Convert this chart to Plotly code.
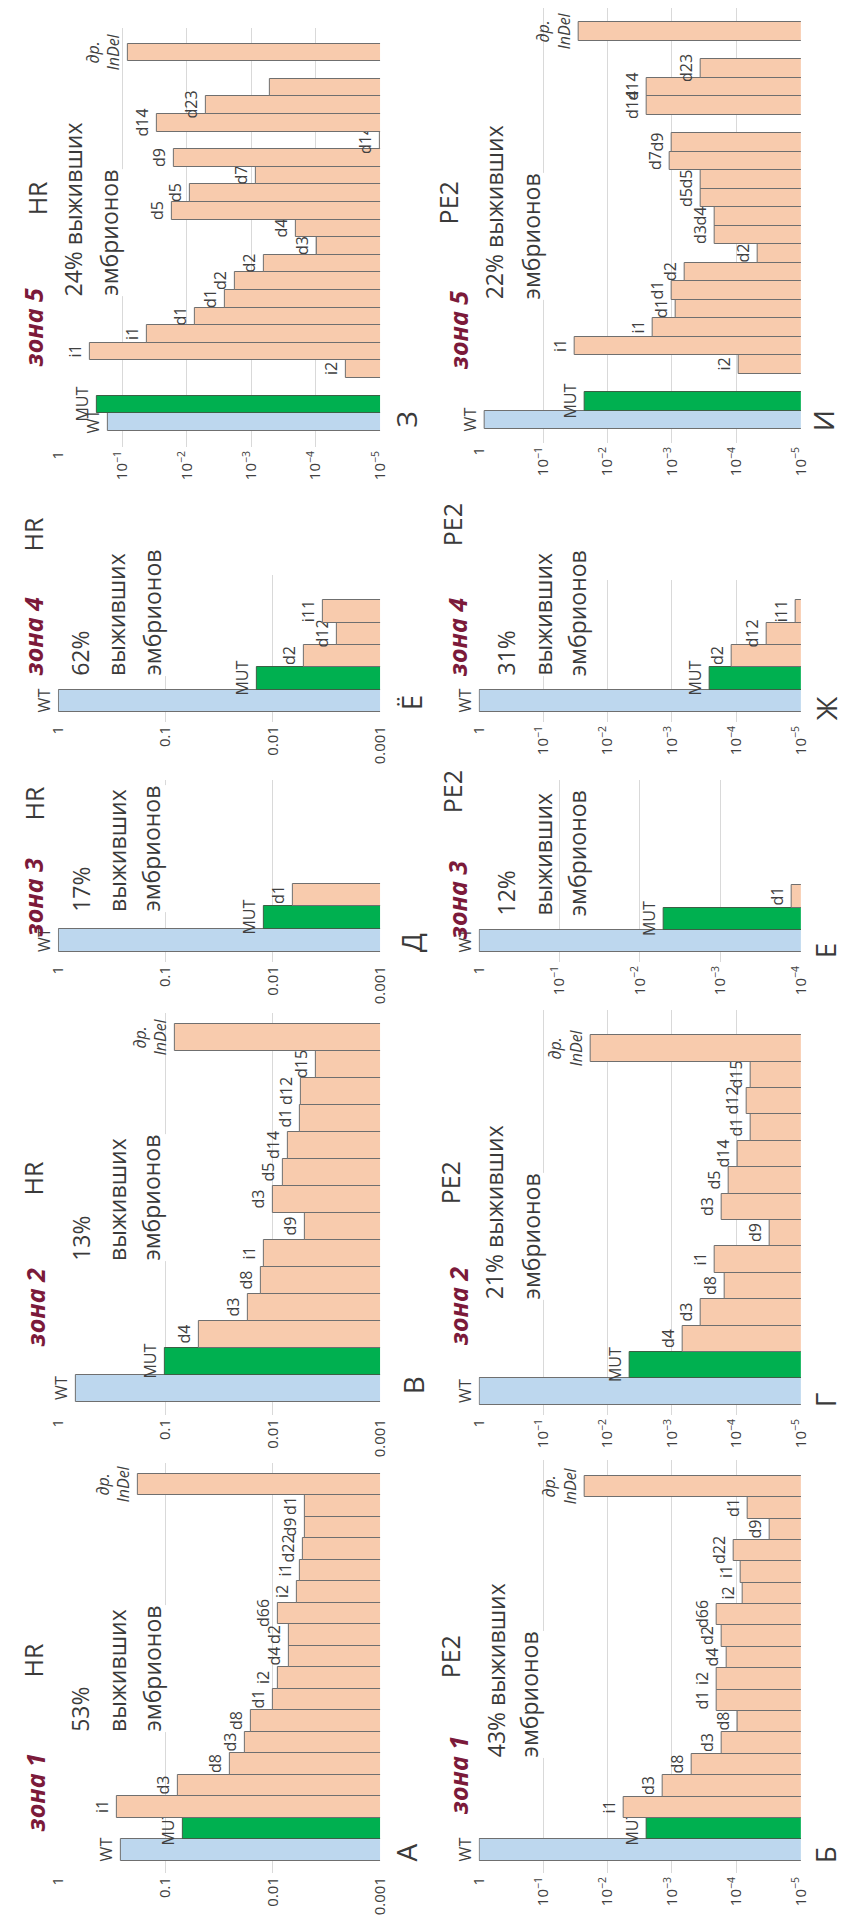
import plotly.graph_objects as go

W, H = 845, 1924
IND = "<i>др.</i><br><i>InDel</i>"

# ---------------- DATA (bottom -> top within each panel; "" / None = empty slot) ----------------
# zone 1, HR (А)
a_labels = ["WT", "MUT", "i1", "d3", "d8", "d3", "d8", "d1", "i2", "d4", "d2", "d66", "i2", "i1", "d22", "d9", "d1", IND]
a_values = [0.26, 0.068, 0.28, 0.076, 0.025, 0.018, 0.016, 0.010, 0.0089, 0.0071, 0.0071, 0.0089, 0.0060, 0.0056, 0.0052, 0.0050, 0.0050, 0.18]
# zone 1, PE2 (Б)
b_labels = ["WT", "MUT", "i1", "d3", "d8", "d3", "d8", "d1", "i2", "d4", "d2", "d66", "i2", "i1", "d22", "d9", "d1", IND]
b_values = [0.98, 2.5e-3, 5.6e-3, 1.4e-3, 5.0e-4, 1.7e-4, 9.5e-5, 2.0e-4, 2.0e-4, 1.4e-4, 1.7e-4, 2.0e-4, 7.9e-5, 8.5e-5, 1.1e-4, 3.0e-5, 6.6e-5, 0.023]
# zone 2, HR (В)
v_labels = ["WT", "MUT", "d4", "d3", "d8", "i1", "d9", "d3", "d5", "d14", "d1", "d12", "d15", IND]
v_values = [0.68, 0.10, 0.049, 0.017, 0.013, 0.012, 5.0e-3, 0.010, 8.1e-3, 7.2e-3, 5.6e-3, 5.5e-3, 4.0e-3, 0.081]
# zone 2, PE2 (Г)
g_labels = ["WT", "MUT", "d4", "d3", "d8", "i1", "d9", "d3", "d5", "d14", "d1", "d12", "d15", IND]
g_values = [0.98, 4.6e-3, 6.9e-4, 3.6e-4, 1.5e-4, 2.2e-4, 3.1e-5, 1.7e-4, 1.3e-4, 9.5e-5, 6.0e-5, 6.9e-5, 6.0e-5, 0.018]
# zone 3, HR (Д)
d_labels = ["WT", "MUT", "d1"]
d_values = [0.98, 0.012, 6.5e-3]
# zone 3, PE2 (Е)
e_labels = ["WT", "MUT", "d1"]
e_values = [0.98, 5.0e-3, 1.3e-4]
# zone 4, HR (Ё)
yo_labels = ["WT", "MUT", "d2", "d12", "i11"]
yo_values = [0.98, 0.014, 5.1e-3, 2.5e-3, 3.4e-3]
# zone 4, PE2 (Ж)
zh_labels = ["WT", "MUT", "d2", "d12", "i11"]
zh_values = [0.95, 2.6e-4, 1.2e-4, 3.4e-5, 1.2e-5]
# zone 5, HR (З)
z_labels = ["WT", "MUT", "", "i2", "i1", "i1", "d1", "d1", "d2", "d2", "d3", "d4", "d5", "d5", "d7", "d9", "d14", "d14", "d23", "", "", IND]
z_values = [0.17, 0.25, None, 3.4e-5, 0.32, 0.042, 7.4e-3, 2.6e-3, 1.8e-3, 6.3e-4, 9.5e-5, 2.0e-4, 0.017, 8.9e-3, 8.5e-4, 0.016, 1.0e-5, 0.029, 5.0e-3, 5.2e-4, None, 0.083]
# zone 5, PE2 (И)
i_labels = ["WT", "MUT", "", "i2", "i1", "i1", "d1", "d1", "d2", "d2", "d3", "d4", "d5", "d5", "d7", "d9", "", "d14", "d14", "d23", "", IND]
i_values = [0.81, 0.023, None, 9.1e-5, 0.032, 2.0e-3, 8.9e-4, 1.0e-3, 6.3e-4, 4.6e-5, 2.2e-4, 2.2e-4, 3.6e-4, 3.6e-4, 1.1e-3, 1.0e-3, None, 2.5e-3, 2.5e-3, 3.6e-4, None, 0.028]

# survival texts
surv_a = ["53%", "выживших", "эмбрионов"]
surv_b = ["43% выживших", "эмбрионов"]
surv_v = ["13%", "выживших", "эмбрионов"]
surv_g = ["21% выживших", "эмбрионов"]
surv_d = ["17%", "выживших", "эмбрионов"]
surv_e = ["12%", "выживших", "эмбрионов"]
surv_yo = ["62%", "выживших", "эмбрионов"]
surv_zh = ["31%", "выживших", "эмбрионов"]
surv_z = ["24% выживших", "эмбрионов"]
surv_i = ["22% выживших", "эмбрионов"]

# ---------------- LAYOUT / STYLE ----------------
COL_X = {"L": (48, 378), "R": (479, 809)}
C_WT, C_MUT, C_OTH = "#BDD7EE", "#00B050", "#F8CBAD"
ZONE_COLOR = "#7B1A3A"
TXT = "#3a3a3a"
FONT = "Open Sans"

panels = [
    dict(lab=a_labels, val=a_values, col="L", top=1463, bot=1873, c0=1850, c1=1484.5, mn=-3, pw=False,
         zone="зона 1", strain="HR", zpos=(25, 1792), spos=(23, 1660), surv=surv_a, sx=[70, 108, 144], sb=1733,
         letter="А", lpos=(405, 1852)),
    dict(lab=b_labels, val=b_values, col="R", top=1460, bot=1873, c0=1850, c1=1486.5, mn=-5, pw=True,
         zone="зона 1", strain="PE2", zpos=(458, 1775), spos=(450, 1657), surv=surv_b, sx=[497, 531], sb=1758,
         letter="Б", lpos=(834, 1855)),
    dict(lab=v_labels, val=v_values, col="L", top=1013, bot=1415, c0=1388.5, c1=1037.5, mn=-3, pw=False,
         zone="зона 2", strain="HR", zpos=(25, 1307), spos=(23, 1178), surv=surv_v, sx=[71, 108, 143], sb=1262,
         letter="В", lpos=(412, 1385)),
    dict(lab=g_labels, val=g_values, col="R", top=1010, bot=1415, c0=1391.5, c1=1048.5, mn=-5, pw=True,
         zone="зона 2", strain="PE2", zpos=(458, 1306), spos=(450, 1183), surv=surv_g, sx=[495, 533], sb=1300,
         letter="Г", lpos=(834, 1400)),
    dict(lab=d_labels, val=d_values, col="L", top=780, bot=962, c0=940.5, c1=895, mn=-3, pw=False,
         zone="зона 3", strain="HR", zpos=(23, 897), spos=(24, 803), surv=surv_d, sx=[71, 108, 143], sb=913,
         letter="Д", lpos=(410, 943)),
    dict(lab=e_labels, val=e_values, col="R", top=780, bot=962, c0=941, c1=896.5, mn=-4, pw=True,
         zone="зона 3", strain="PE2", zpos=(457, 900), spos=(452, 792), surv=surv_e, sx=[507, 545, 580], sb=917,
         letter="Е", lpos=(834, 950)),
    dict(lab=yo_labels, val=yo_values, col="L", top=575, bot=722, c0=701, c1=611.5, mn=-3, pw=False,
         zone="зона 4", strain="HR", zpos=(23, 636), spos=(23, 534), surv=surv_yo, sx=[71, 108, 144], sb=677,
         letter="Ё", lpos=(410, 702)),
    dict(lab=zh_labels, val=zh_values, col="R", top=580, bot=722, c0=701, c1=611.5, mn=-5, pw=True,
         zone="зона 4", strain="PE2", zpos=(457, 637), spos=(452, 525), surv=surv_zh, sx=[507, 545, 580], sb=677,
         letter="Ж", lpos=(835, 708)),
    dict(lab=z_labels, val=z_values, col="L", top=28, bot=447, c0=422, c1=52.5, mn=-5, pw=True,
         zone="зона 5", strain="HR", zpos=(23, 327), spos=(27, 198), surv=surv_z, sx=[64, 100], sb=297,
         letter="З", lpos=(405, 419)),
    dict(lab=i_labels, val=i_values, col="R", top=8, bot=443, c0=420, c1=31.5, mn=-5, pw=True,
         zone="зона 5", strain="PE2", zpos=(458, 330), spos=(448, 203), surv=surv_i, sx=[495, 533], sb=300,
         letter="И", lpos=(832, 421)),
]


def px(x):
    return x / W


def py(y):
    return 1 - y / H


fig = go.Figure()
layout = dict(
    width=W, height=H, margin=dict(l=0, r=0, t=0, b=0),
    paper_bgcolor="white", plot_bgcolor="white", showlegend=False,
    bargap=0, font=dict(family=FONT, color=TXT, size=16),
)
annotations = []

for k, p in enumerate(panels, start=1):
    xa = "x" if k == 1 else f"x{k}"
    ya = "y" if k == 1 else f"y{k}"
    n = len(p["lab"])
    slot = (p["c0"] - p["c1"]) / (n - 1)
    yr = [(p["c0"] - p["bot"]) / slot, (p["c0"] - p["top"]) / slot]
    colors = [C_WT if l == "WT" else (C_MUT if l == "MUT" else C_OTH) for l in p["lab"]]
    lines = ["#6f6f6f" if l != "MUT" else "#3d5f45" for l in p["lab"]]
    fig.add_trace(go.Bar(
        orientation="h", x=p["val"], y=list(range(n)), text=p["lab"],
        textposition="outside", textangle=-90, constraintext="none", cliponaxis=False,
        textfont=dict(size=16, color="#404040", family=FONT),
        outsidetextfont=dict(size=16, color="#404040", family=FONT),
        marker=dict(color=colors, line=dict(color=lines, width=1)),
        width=1, xaxis=xa, yaxis=ya, hoverinfo="skip",
    ))
    x0, x1 = COL_X[p["col"]]
    xkey = "xaxis" if k == 1 else f"xaxis{k}"
    ykey = "yaxis" if k == 1 else f"yaxis{k}"
    xd = dict(
        type="log", range=[0, p["mn"]], domain=[px(x0), px(x1)], anchor=ya,
        dtick=1, showgrid=True, gridcolor="#d9d9d9", gridwidth=1, zeroline=False,
        showline=False, ticks="", tickangle=-90,
        tickfont=dict(size=12 if p["pw"] else 15, color="#404040", family=FONT),
        fixedrange=True,
    )
    if p["pw"]:
        xd["exponentformat"] = "power"
    layout[xkey] = xd
    layout[ykey] = dict(
        range=yr, domain=[py(p["bot"]), py(p["top"])], anchor=xa,
        showgrid=False, zeroline=False, showticklabels=False, showline=False, ticks="",
        fixedrange=True,
    )
    annotations.append(dict(
        text=f"<b><i>{p['zone']}</i></b>", x=px(p["zpos"][0]), y=py(p["zpos"][1]),
        xref="paper", yref="paper", xanchor="center", yanchor="middle", textangle=-90,
        showarrow=False, font=dict(size=25, color=ZONE_COLOR, family=FONT),
    ))
    annotations.append(dict(
        text=p["strain"], x=px(p["spos"][0]), y=py(p["spos"][1]),
        xref="paper", yref="paper", xanchor="center", yanchor="middle", textangle=-90,
        showarrow=False, font=dict(size=25, color=TXT, family=FONT),
    ))
    for line, sx in zip(p["surv"], p["sx"]):
        annotations.append(dict(
            text=line, x=px(sx), y=py(p["sb"]),
            xref="paper", yref="paper", xanchor="center", yanchor="bottom", textangle=-90,
            showarrow=False, bgcolor="white", borderpad=0,
            font=dict(size=23, color=TXT, family=FONT),
        ))
    annotations.append(dict(
        text=p["letter"], x=px(p["lpos"][0]), y=py(p["lpos"][1]),
        xref="paper", yref="paper", xanchor="center", yanchor="middle", textangle=-90,
        showarrow=False, font=dict(size=28, color=TXT, family=FONT),
    ))

layout["annotations"] = annotations
fig.update_layout(**layout)
fig.write_html("out.html")
